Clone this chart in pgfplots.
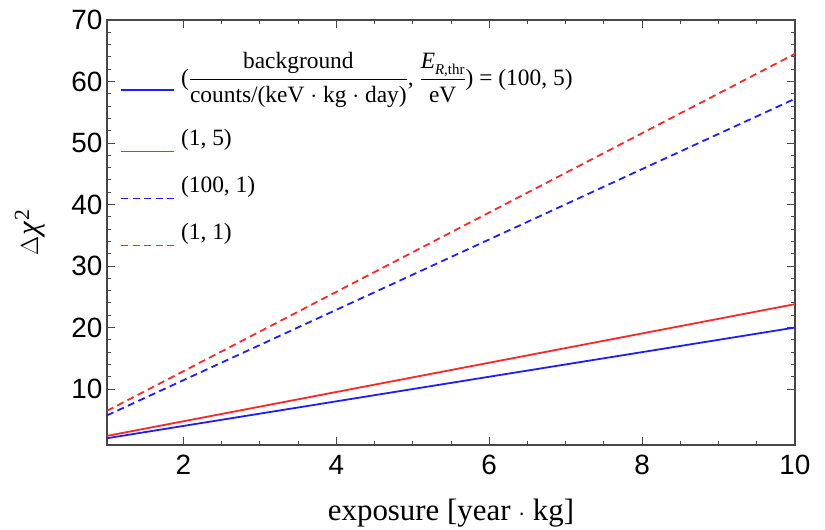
\documentclass[border=0pt]{standalone}
\usepackage{pgfplots}
\pgfplotsset{compat=1.18}
\usepackage{fontspec}
\setmainfont{Liberation Serif}
\newfontfamily\ticksans{Liberation Sans}

\definecolor{lineblue}{RGB}{30,30,250}
\definecolor{linered}{RGB}{250,40,40}
\definecolor{framegray}{RGB}{70,70,70}

% struts that fix the height and depth of the legend rows
\newcommand{\firstrow}{\rule[-43bp]{0pt}{73bp}}
\newcommand{\otherrow}{\rule[-30bp]{0pt}{47bp}}
\newcommand{\sep}{\ $\cdot$\ }
% legend text, lowered so that each sample line sits at its middle
\newcommand{\legtext}[1]{\raisebox{-14bp}{#1}}

\begin{document}
\begin{tikzpicture}
\useasboundingbox (-107bp,-85bp) rectangle (718bp,445bp);
\begin{axis}[
  scale only axis,
  width=688bp, height=425bp,
  xmin=1, xmax=10, ymin=0.9, ymax=70,
  xtick={2,4,6,8,10}, ytick={10,20,30,40,50,60,70},
  minor x tick num=3, minor y tick num=4,
  tick align=inside,
  major tick length=8bp, minor tick length=4.5bp,
  axis line style={framegray, line width=1.1bp},
  every tick/.style={framegray, line width=0.9bp},
  /pgf/number format/assume math mode=true,
  tick label style={font=\fontsize{28}{28}\selectfont\ticksans, text=black},
  xticklabel style={yshift=-7bp},
  yticklabel style={xshift=-1bp},
  xlabel={exposure [year\sep kg]},
  ylabel={$\Delta$\kern1pt\textit{χ}\textsuperscript{2}},
  label style={font=\fontsize{31}{31}\selectfont},
  xlabel style={yshift=-17bp},
  ylabel style={yshift=20bp},
  legend cell align=left,
  legend image code/.code={\draw[#1] (0bp,0bp) -- (53bp,0bp);},
  legend style={
    at={(axis description cs:0.019,0.925)}, anchor=north west,
    draw=none, fill=none,
    font=\fontsize{23.5}{23.5}\selectfont,
    row sep=0bp,
    inner sep=0pt,
    nodes={inner sep=0pt, text depth=},
  },
  /tikz/every odd column/.append style={column sep=6bp},
]
\addplot[lineblue, line width=1.8bp] coordinates {(1,2.0) (10,20.0)};
\addlegendentry{\legtext{\firstrow($\displaystyle\frac{\mbox{background}}{\mbox{counts/(keV\sep kg\sep day)}}$, $\displaystyle\frac{\mbox{\textit{E}\raisebox{-0.25em}{\fontsize{15}{15}\selectfont\textit{R},thr}}}{\mbox{eV}}$) = (100, 5)}}
\addplot[linered, line width=1.8bp] coordinates {(1,2.38) (10,23.8)};
\addlegendentry{\legtext{\otherrow(1, 5)}}
\addplot[lineblue, line width=1.8bp, dash pattern=on 7bp off 4.5bp] coordinates {(1,5.72) (10,57.2)};
\addlegendentry{\legtext{\otherrow(100, 1)}}
\addplot[linered, line width=1.8bp, dash pattern=on 7bp off 4.5bp] coordinates {(1,6.45) (10,64.5)};
\addlegendentry{\legtext{\otherrow(1, 1)}}
\end{axis}
\end{tikzpicture}
\end{document}
